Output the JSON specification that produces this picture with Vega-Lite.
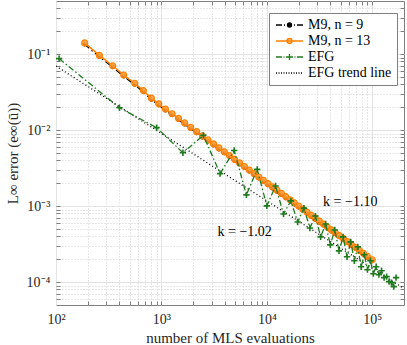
{
  "$schema": "https://vega.github.io/schema/vega-lite/v6.json",
  "width": 348,
  "height": 304,
  "autosize": "none",
  "padding": {"left": 56, "top": 1, "right": 3, "bottom": 40},
  "background": "white",
  "config": {
    "font": "Liberation Serif",
    "view": {"stroke": "#808080", "strokeWidth": 1},
    "axis": {"labelFont": "Liberation Serif", "titleFont": "Liberation Serif", "labelColor": "#262626", "titleColor": "#262626", "titleFontWeight": "normal"},
    "legend": {"labelFont": "Liberation Serif", "titleFont": "Liberation Serif"},
    "text": {"font": "Liberation Serif"}
  },
  "datasets": {
    "m9": [
      {"x": 187, "n9": 0.1342, "n13": 0.1405},
      {"x": 258, "n9": 0.0919, "n13": 0.0962},
      {"x": 345, "n9": 0.0671, "n13": 0.0703},
      {"x": 439, "n9": 0.0507, "n13": 0.0531},
      {"x": 559, "n9": 0.0395, "n13": 0.0414},
      {"x": 674, "n9": 0.03165, "n13": 0.03314},
      {"x": 803, "n9": 0.02517, "n13": 0.02636},
      {"x": 944, "n9": 0.0212, "n13": 0.0222},
      {"x": 1091, "n9": 0.01808, "n13": 0.01893},
      {"x": 1263, "n9": 0.01569, "n13": 0.01643},
      {"x": 1453, "n9": 0.01362, "n13": 0.01426},
      {"x": 1663, "n9": 0.01186, "n13": 0.01242},
      {"x": 1896, "n9": 0.01039, "n13": 0.01088},
      {"x": 2158, "n9": 0.009129, "n13": 0.009559},
      {"x": 2449, "n9": 0.008022, "n13": 0.0084},
      {"x": 2768, "n9": 0.007092, "n13": 0.007426},
      {"x": 3121, "n9": 0.006288, "n13": 0.006584},
      {"x": 3512, "n9": 0.005571, "n13": 0.005834},
      {"x": 3944, "n9": 0.004955, "n13": 0.005188},
      {"x": 4419, "n9": 0.00442, "n13": 0.004628},
      {"x": 4939, "n9": 0.003941, "n13": 0.004127},
      {"x": 5510, "n9": 0.003536, "n13": 0.003703},
      {"x": 6134, "n9": 0.003173, "n13": 0.003323},
      {"x": 6814, "n9": 0.002848, "n13": 0.002982},
      {"x": 7566, "n9": 0.002563, "n13": 0.002684},
      {"x": 8384, "n9": 0.002306, "n13": 0.002415},
      {"x": 9273, "n9": 0.002089, "n13": 0.002187},
      {"x": 10250, "n9": 0.001885, "n13": 0.001974},
      {"x": 11310, "n9": 0.001708, "n13": 0.001788},
      {"x": 12480, "n9": 0.001546, "n13": 0.001619},
      {"x": 13740, "n9": 0.001404, "n13": 0.00147},
      {"x": 15130, "n9": 0.001271, "n13": 0.001331},
      {"x": 16620, "n9": 0.001158, "n13": 0.001213},
      {"x": 18260, "n9": 0.001051, "n13": 0.001101},
      {"x": 20020, "n9": 0.000958, "n13": 0.001003},
      {"x": 21940, "n9": 0.000873, "n13": 0.000914},
      {"x": 24050, "n9": 0.000795, "n13": 0.000832},
      {"x": 26300, "n9": 0.000726, "n13": 0.00076},
      {"x": 28770, "n9": 0.000664, "n13": 0.000695},
      {"x": 31480, "n9": 0.000606, "n13": 0.000635},
      {"x": 34360, "n9": 0.000556, "n13": 0.000582},
      {"x": 37490, "n9": 0.000507, "n13": 0.000531},
      {"x": 40910, "n9": 0.000465, "n13": 0.000487},
      {"x": 44640, "n9": 0.000427, "n13": 0.000447},
      {"x": 48730, "n9": 0.00039, "n13": 0.000408},
      {"x": 53180, "n9": 0.000357, "n13": 0.000374},
      {"x": 58030, "n9": 0.000326, "n13": 0.000341},
      {"x": 63340, "n9": 0.000299, "n13": 0.000313},
      {"x": 69130, "n9": 0.000274, "n13": 0.000287},
      {"x": 75450, "n9": 0.00025, "n13": 0.000262},
      {"x": 82330, "n9": 0.000229, "n13": 0.00024},
      {"x": 89860, "n9": 0.000209, "n13": 0.000219},
      {"x": 100000, "n9": 0.000188, "n13": 0.000197}
    ],
    "efg": [
      {"x": 107, "y": 0.0873},
      {"x": 400, "y": 0.01968},
      {"x": 900, "y": 0.01078},
      {"x": 1600, "y": 0.005035},
      {"x": 2500, "y": 0.008551},
      {"x": 3600, "y": 0.002676},
      {"x": 4900, "y": 0.005395},
      {"x": 6400, "y": 0.001405},
      {"x": 8100, "y": 0.003047},
      {"x": 10000, "y": 0.001009},
      {"x": 12100, "y": 0.001843},
      {"x": 14400, "y": 0.000786},
      {"x": 16900, "y": 0.001173},
      {"x": 19600, "y": 0.0006177},
      {"x": 22500, "y": 0.0009416},
      {"x": 25600, "y": 0.0005159},
      {"x": 28900, "y": 0.00074},
      {"x": 32400, "y": 0.0003934},
      {"x": 36100, "y": 0.0005816},
      {"x": 40000, "y": 0.0003093},
      {"x": 44100, "y": 0.0004858},
      {"x": 48400, "y": 0.0002581},
      {"x": 52900, "y": 0.0003934},
      {"x": 57600, "y": 0.0002154},
      {"x": 62500, "y": 0.0003384},
      {"x": 67600, "y": 0.000191},
      {"x": 72900, "y": 0.0002912},
      {"x": 78400, "y": 0.0001594},
      {"x": 84100, "y": 0.0002288},
      {"x": 90000, "y": 0.0001457},
      {"x": 96100, "y": 0.000191},
      {"x": 102400, "y": 0.0001291},
      {"x": 108900, "y": 0.0001594},
      {"x": 115600, "y": 0.0001253},
      {"x": 122500, "y": 0.0001414},
      {"x": 129600, "y": 0.0001145},
      {"x": 136900, "y": 0.000118},
      {"x": 144400, "y": 0.0001015},
      {"x": 152100, "y": 0.0000985},
      {"x": 160000, "y": 0.0000873},
      {"x": 168100, "y": 0.0001145}
    ],
    "trend": [
      {"x": 100, "y": 0.0697},
      {"x": 200000, "y": 0.0000822}
    ],
    "notes": [
      {"x": 61800, "y": 0.00113, "label": "k = −1.10"},
      {"x": 6166, "y": 0.000457, "label": "k = −1.02"}
    ],
    "legend": [
      {"series": "M9, n = 9"},
      {"series": "M9, n = 13"},
      {"series": "EFG"},
      {"series": "EFG trend line"}
    ]
  },
  "resolve": {"axis": {"x": "independent", "y": "independent"}},
  "layer": [
    {
      "data": {"name": "trend"},
      "mark": {"type": "line", "color": "black", "strokeDash": [1, 2.5], "strokeWidth": 1.3, "clip": true},
      "encoding": {
        "x": {"field": "x", "type": "quantitative",
          "scale": {"type": "log", "domain": [100, 200000], "nice": false},
          "axis": {"orient": "bottom", "values": [200,300,400,500,600,700,800,900,1000,2000,3000,4000,5000,6000,7000,8000,9000,10000,20000,30000,40000,50000,60000,70000,80000,90000,100000],
            "grid": true, "gridDash": [1, 2], "gridColor": "#c4c4c4", "gridWidth": 0.8, "labels": false, "ticks": true, "tickSize": -4, "tickColor": "#808080", "domain": false, "title": null}},
        "y": {"field": "y", "type": "quantitative",
          "scale": {"type": "log", "domain": [0.00005, 0.5], "nice": false},
          "axis": {"orient": "left", "values": [0.00006,0.00007,0.00008,0.00009,0.0001,0.0002,0.0003,0.0004,0.0005,0.0006,0.0007,0.0008,0.0009,0.001,0.002,0.003,0.004,0.005,0.006,0.007,0.008,0.009,0.01,0.02,0.03,0.04,0.05,0.06,0.07,0.08,0.09,0.1,0.2,0.3,0.4],
            "grid": true, "gridDash": [1, 2], "gridColor": "#c4c4c4", "gridWidth": 0.8, "labels": false, "ticks": true, "tickSize": -4, "tickColor": "#808080", "domain": false, "title": null}}
      }
    },
    {
      "data": {"name": "m9"},
      "mark": {"type": "line", "color": "black", "strokeDash": [6, 3, 1.5, 3], "strokeWidth": 1.2},
      "encoding": {
        "x": {"field": "x", "type": "quantitative",
          "axis": {"orient": "top", "values": [200,300,400,500,600,700,800,900,1000,2000,3000,4000,5000,6000,7000,8000,9000,10000,20000,30000,40000,50000,60000,70000,80000,90000,100000],
            "grid": false, "labels": false, "ticks": true, "tickSize": -4, "tickColor": "#808080", "domain": false, "title": null}},
        "y": {"field": "n9", "type": "quantitative",
          "axis": {"orient": "right", "values": [0.00006,0.00007,0.00008,0.00009,0.0001,0.0002,0.0003,0.0004,0.0005,0.0006,0.0007,0.0008,0.0009,0.001,0.002,0.003,0.004,0.005,0.006,0.007,0.008,0.009,0.01,0.02,0.03,0.04,0.05,0.06,0.07,0.08,0.09,0.1,0.2,0.3,0.4],
            "grid": false, "labels": false, "ticks": true, "tickSize": -4, "tickColor": "#808080", "domain": false, "title": null}}
      }
    },
    {
      "data": {"name": "m9"},
      "mark": {"type": "point", "shape": "circle", "filled": true, "color": "black", "size": 16, "opacity": 1},
      "encoding": {
        "x": {"field": "x", "type": "quantitative", "axis": null},
        "y": {"field": "n9", "type": "quantitative", "axis": null}
      }
    },
    {
      "data": {"name": "m9"},
      "mark": {"type": "line", "color": "#ff8000", "strokeWidth": 1.5},
      "encoding": {
        "x": {"field": "x", "type": "quantitative", "axis": null},
        "y": {"field": "n13", "type": "quantitative", "axis": null}
      }
    },
    {
      "data": {"name": "m9"},
      "mark": {"type": "point", "shape": "circle", "filled": false, "fill": "#ff9a33", "fillOpacity": 0.85, "stroke": "#ff7f00", "strokeWidth": 1.2, "size": 36, "opacity": 1},
      "encoding": {
        "x": {"field": "x", "type": "quantitative", "axis": null},
        "y": {"field": "n13", "type": "quantitative", "axis": null}
      }
    },
    {
      "data": {"name": "efg"},
      "mark": {"type": "line", "color": "#1f7a1f", "strokeDash": [6, 2.5, 1.5, 2.5], "strokeWidth": 1.3},
      "encoding": {
        "x": {"field": "x", "type": "quantitative",
          "axis": {"orient": "bottom", "values": [100, 1000, 10000, 100000], "grid": true, "gridColor": "#e3e3e3", "gridWidth": 1, "gridDash": [], "ticks": false, "domain": false,
            "labelExpr": "datum.value < 500 ? '10²' : datum.value < 5000 ? '10³' : datum.value < 50000 ? '10⁴' : '10⁵'",
            "labelFontSize": 14, "labelPadding": 7, "labelFlush": false,
            "title": "number of MLS evaluations", "titleFontSize": 15, "titlePadding": 4}},
        "y": {"field": "y", "type": "quantitative",
          "axis": {"orient": "left", "values": [0.0001, 0.001, 0.01, 0.1], "grid": true, "gridColor": "#e3e3e3", "gridWidth": 1, "gridDash": [], "ticks": false, "domain": false,
            "labelExpr": "datum.value > 0.05 ? '10⁻¹' : datum.value > 0.005 ? '10⁻²' : datum.value > 0.0005 ? '10⁻³' : '10⁻⁴'",
            "labelFontSize": 14, "labelPadding": 6,
            "title": "L∞ error (e∞(ū))", "titleFontSize": 15, "titlePadding": 6}}
      }
    },
    {
      "data": {"name": "efg"},
      "mark": {"type": "point", "shape": "M-1,0H1M0,-1V1", "filled": false, "color": "#1f7a1f", "strokeWidth": 1.6, "size": 40, "opacity": 1},
      "encoding": {
        "x": {"field": "x", "type": "quantitative", "axis": null},
        "y": {"field": "y", "type": "quantitative", "axis": null}
      }
    },
    {
      "data": {"name": "notes"},
      "mark": {"type": "text", "font": "Liberation Serif", "fontSize": 14, "color": "black"},
      "encoding": {
        "x": {"field": "x", "type": "quantitative", "axis": null},
        "y": {"field": "y", "type": "quantitative", "axis": null},
        "text": {"field": "label"}
      }
    },
    {
      "data": {"name": "legend"},
      "mark": {"type": "point", "opacity": 0, "strokeWidth": 1.2},
      "encoding": {
        "shape": {"field": "series", "type": "nominal",
          "scale": {"domain": ["M9, n = 9", "M9, n = 13", "EFG", "EFG trend line"],
            "range": [
              "M-1,0H0.2M0.6,0H0.8M1.2,0H2.2M2.6,0H2.8M3.2,0H4.4M2.1,0A0.4,0.4 0 1,1 1.3,0A0.4,0.4 0 1,1 2.1,0Z",
              "M-1,0H4.4M2.2,0A0.5,0.5 0 1,1 1.2,0A0.5,0.5 0 1,1 2.2,0Z",
              "M-1,0H0.2M0.5,0H0.7M1.0,0H2.4M1.7,-0.6V0.6M2.7,0H2.9M3.2,0H4.4",
              "M-1,0H-0.8M-0.5,0H-0.3M0,0H0.2M0.5,0H0.7M1,0H1.2M1.5,0H1.7M2,0H2.2M2.5,0H2.7M3,0H3.2M3.5,0H3.7M4,0H4.2"
            ]},
          "legend": {"orient": "none", "legendX": 213, "legendY": 12, "title": null, "symbolSize": 100, "labelFontSize": 14, "labelFont": "Liberation Serif", "labelColor": "black", "labelOffset": 20, "padding": 5, "strokeColor": "#7f7f7f", "fillColor": "white", "rowPadding": 2, "symbolStrokeWidth": 1.3, "symbolOpacity": 1}},
        "stroke": {"field": "series", "type": "nominal",
          "scale": {"domain": ["M9, n = 9", "M9, n = 13", "EFG", "EFG trend line"], "range": ["black", "#ff8000", "#1f7a1f", "black"]}},
        "fill": {"field": "series", "type": "nominal",
          "scale": {"domain": ["M9, n = 9", "M9, n = 13", "EFG", "EFG trend line"], "range": ["black", "#ffc88f", "#1f7a1f", "black"]}}
      }
    }
  ]
}
